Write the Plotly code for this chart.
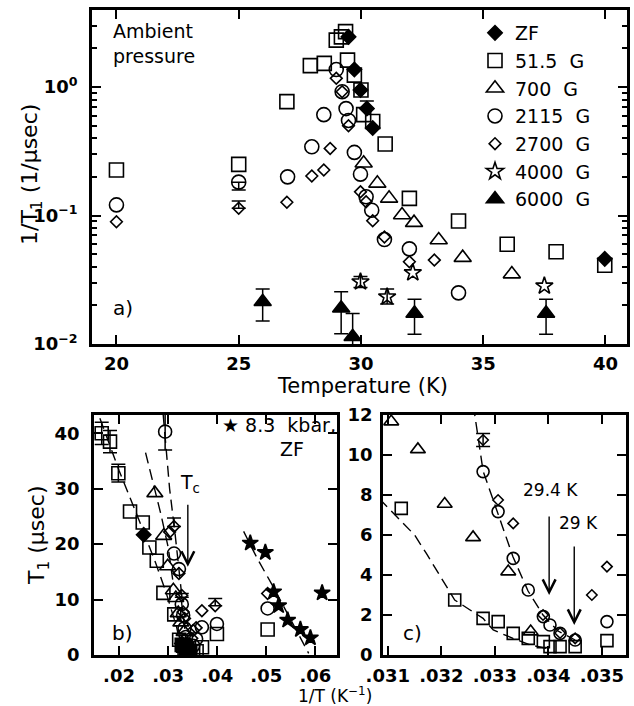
import plotly.graph_objects as go

FONT = "DejaVu Sans"
W, H = 634, 706

# ---------------- panel a : 1/T1 (1/usec) vs temperature (K) ----------------
zf_T = [29.49, 29.73, 29.98, 30.24, 30.48, 39.97]
zf_R = [2.46, 1.37, 0.95, 0.68, 0.48, 0.046]

g51_T = [20.0, 25.0, 26.97, 27.93, 28.5, 28.99, 29.2, 29.37, 29.45, 29.73, 30.0,
         30.11, 30.48, 30.99, 31.98, 33.99, 35.98, 37.98, 39.97]
g51_R = [0.226, 0.25, 0.77, 1.47, 1.53, 2.32, 2.46, 2.7, 1.62, 1.24, 0.95,
         0.61, 0.54, 0.36, 0.136, 0.0906, 0.0597, 0.0523, 0.041]

g700_T = [30.11, 30.67, 31.15, 31.68, 32.17, 33.18, 34.16, 36.17]
g700_R = [0.255, 0.178, 0.136, 0.101, 0.088, 0.0645, 0.047, 0.035]

g2115_T = [20.0, 25.0, 27.0, 27.99, 28.48, 28.99, 29.23, 29.39, 29.49, 29.73,
           29.98, 30.21, 30.44, 30.96, 31.98, 33.99]
g2115_R = [0.121, 0.182, 0.20, 0.343, 0.61, 1.37, 0.92, 0.68, 0.55, 0.31,
           0.21, 0.14, 0.11, 0.065, 0.055, 0.025]

g2700_T = [20.0, 25.0, 26.97, 27.99, 28.48, 28.74, 28.99, 29.23, 29.49, 29.98,
           30.21, 30.48, 30.96, 31.98, 33.0]
g2700_R = [0.0895, 0.114, 0.127, 0.203, 0.226, 0.333, 1.17, 0.92, 0.50, 0.153,
           0.128, 0.091, 0.068, 0.0437, 0.045]

g4000_T = [29.98, 31.07, 32.12, 37.5]
g4000_R = [0.0305, 0.0233, 0.0359, 0.0283]

g6000_T = [25.98, 29.19, 29.66, 32.19, 37.57]
g6000_R = [0.0213, 0.019, 0.0114, 0.0173, 0.0173]
g6000_up = [0.0055, 0.0065, 0.0059, 0.005, 0.005]
g6000_dn = [0.0062, 0.007, 0.011, 0.0054, 0.0054]

# error bars on a few panel-a points
ea_zf_T, ea_zf_R, ea_zf_up, ea_zf_dn = [30.24], [0.68], [0.10], [0.0]
ea_2115_T, ea_2115_R, ea_2115_up, ea_2115_dn = [25.0], [0.182], [0.0], [0.024]
ea_2700_T, ea_2700_R, ea_2700_up, ea_2700_dn = [25.0], [0.114], [0.016], [0.0]
ea_4000_T, ea_4000_R = [29.98, 31.07], [0.0305, 0.0233]
ea_4000_up, ea_4000_dn = [0.003, 0.0035], [0.003, 0.0028]

# ---------------- panels b, c : T1 (usec) vs 1/T (1/K) ----------------
sq_x = [0.01647, 0.01816, 0.01986, 0.02224, 0.02483, 0.02618, 0.02769, 0.02904,
        0.031251, 0.03225, 0.03278, 0.033062, 0.033343, 0.033624, 0.033906,
        0.03403, 0.034218, 0.0345, 0.035094, 0.0358, 0.0369, 0.03994, 0.05027]
sq_y = [40.0, 38.5, 32.8, 25.9, 23.9, 19.4, 17.0, 11.2,
        7.33, 2.75, 1.83, 1.67, 1.08, 0.83, 0.67,
        0.42, 0.42, 0.42, 0.72, 0.68, 1.4, 3.8, 4.6]
esq_x, esq_y, esq_e = [0.01647, 0.01816, 0.01986], [40.0, 38.5, 32.8], [2.0, 2.0, 1.6]

tri_x = [0.0273, 0.0291, 0.0299, 0.031064, 0.031562, 0.032063, 0.032593,
         0.03325, 0.033669]
tri_y = [29.2, 21.5, 16.0, 11.67, 10.28, 7.55, 5.88, 4.17, 1.17]

cir_x = [0.02939, 0.0312, 0.0322, 0.03278, 0.03306, 0.033343, 0.033624,
         0.033906, 0.03403, 0.034218, 0.0345, 0.035094, 0.0357, 0.03688,
         0.03994, 0.05027]
cir_y = [40.3, 18.3, 15.5, 9.17, 7.17, 4.83, 3.25, 1.92, 1.5, 1.08, 0.75,
         1.67, 2.9, 5.0, 5.6, 8.4]
ecir_x, ecir_y, ecir_up, ecir_dn = [0.02939], [40.3], [10.0], [3.3]

dia_x = [0.0303, 0.0312, 0.0322, 0.03278, 0.03306, 0.033343, 0.0339, 0.034218,
         0.0345, 0.034812, 0.035094, 0.0357, 0.03688, 0.03959, 0.05027]
dia_y = [22.2, 23.2, 14.7, 10.75, 7.75, 6.58, 2.0, 1.1, 0.83, 3.0, 4.42, 4.9,
         8.0, 8.9, 11.1]
edia_x, edia_y = [0.0312, 0.03278, 0.03959], [23.2, 10.75, 8.9]
edia_up, edia_dn = [1.5, 0.33, 1.3], [0.0, 0.33, 0.0]

zfb_x = [0.02502, 0.03281, 0.03307, 0.03336, 0.03364, 0.03391]
zfb_y = [21.7, 2.08, 1.47, 1.05, 0.73, 0.41]

kbar_x = [0.04673, 0.04980, 0.05149, 0.05251, 0.05435, 0.05694, 0.05898, 0.06137]
kbar_y = [20.2, 18.5, 11.4, 8.9, 6.3, 4.6, 3.1, 11.2]

# dashed fit curves
fitA_x = [0.0161, 0.0200, 0.0240, 0.0275, 0.0295, 0.0315, 0.03172, 0.03203,
          0.03225, 0.03278, 0.03297, 0.03334, 0.03366, 0.03397]
fitA_y = [42.7, 33.3, 24.5, 16.5, 11.5, 6.0, 5.08, 3.75, 2.75, 1.83, 1.25,
          0.83, 0.5, 0.33]
fitB_x = [0.0254, 0.0270, 0.0285, 0.0300, 0.0311]
fitB_y = [36.5, 31.0, 25.5, 19.5, 12.5]
fitC_x = [0.0290, 0.0296, 0.0303, 0.0314, 0.0322, 0.032625, 0.03278, 0.03306,
          0.03334, 0.03362, 0.0339, 0.03418, 0.0345]
fitC_y = [43.3, 37.0, 30.0, 22.0, 15.5, 12.0, 9.2, 7.0, 4.9, 3.2, 2.0, 1.2, 0.75]
fitD_x = [0.04538, 0.04822, 0.05116, 0.05422, 0.05863]
fitD_y = [22.3, 17.3, 12.7, 7.5, 0.3]

fig = go.Figure()


def mk(symbol, size, lw=1.6):
    return dict(symbol=symbol, size=size, color="black",
                line=dict(color="black", width=lw))


def pts(x, y, symbol, size, xa, ya, name=None, legend=False):
    fig.add_trace(go.Scatter(x=x, y=y, mode="markers", marker=mk(symbol, size),
                             name=name, showlegend=legend, xaxis=xa, yaxis=ya,
                             cliponaxis=True))


def errs(x, y, up, dn, xa, ya):
    fig.add_trace(go.Scatter(
        x=x, y=y, mode="markers", marker=dict(size=4, opacity=0),
        showlegend=False, hoverinfo="skip", xaxis=xa, yaxis=ya,
        error_y=dict(type="data", symmetric=False, array=up, arrayminus=dn,
                     color="black", thickness=1.5, width=7)))


def fit(x, y, xa, ya):
    fig.add_trace(go.Scatter(x=x, y=y, mode="lines", showlegend=False,
                             line=dict(color="black", width=1.4, dash="11px,6px"),
                             xaxis=xa, yaxis=ya, hoverinfo="skip"))


NB = "\u00a0\u00a0"
# panel a (legend order)
pts(zf_T, zf_R, "diamond", 11, "x", "y", "ZF", True)
pts(g51_T, g51_R, "square-open", 14, "x", "y", "51.5" + NB + "G", True)
pts(g700_T, g700_R, "triangle-up-open", 15, "x", "y", "700" + NB + "G", True)
pts(g2115_T, g2115_R, "circle-open", 14, "x", "y", "2115" + NB + "G", True)
pts(g2700_T, g2700_R, "diamond-open", 9, "x", "y", "2700" + NB + "G", True)
pts(g4000_T, g4000_R, "star-open", 13, "x", "y", "4000" + NB + "G", True)
pts(g6000_T, g6000_R, "triangle-up", 15, "x", "y", "6000" + NB + "G", True)
errs(g6000_T, g6000_R, g6000_up, g6000_dn, "x", "y")
errs(ea_zf_T, ea_zf_R, ea_zf_up, ea_zf_dn, "x", "y")
errs(ea_2115_T, ea_2115_R, ea_2115_up, ea_2115_dn, "x", "y")
errs(ea_2700_T, ea_2700_R, ea_2700_up, ea_2700_dn, "x", "y")
errs(ea_4000_T, ea_4000_R, ea_4000_up, ea_4000_dn, "x", "y")

# panel b
fit(fitA_x, fitA_y, "x2", "y2")
fit(fitB_x, fitB_y, "x2", "y2")
fit(fitC_x, fitC_y, "x2", "y2")
fit(fitD_x, fitD_y, "x2", "y2")
pts(sq_x, sq_y, "square-open", 13, "x2", "y2")
pts(tri_x, tri_y, "triangle-up-open", 14, "x2", "y2")
pts(cir_x, cir_y, "circle-open", 13, "x2", "y2")
pts(dia_x, dia_y, "diamond-open", 9, "x2", "y2")
pts(zfb_x, zfb_y, "diamond", 11, "x2", "y2")
pts(kbar_x, kbar_y, "star", 12, "x2", "y2")
errs(esq_x, esq_y, esq_e, esq_e, "x2", "y2")
errs(ecir_x, ecir_y, ecir_up, ecir_dn, "x2", "y2")
errs(edia_x, edia_y, edia_up, edia_dn, "x2", "y2")

# panel c (zoom of b)
fit(fitA_x, fitA_y, "x3", "y3")
fit(fitC_x, fitC_y, "x3", "y3")
pts(sq_x, sq_y, "square-open", 12, "x3", "y3")
pts(tri_x, tri_y, "triangle-up-open", 13, "x3", "y3")
pts(cir_x, cir_y, "circle-open", 12, "x3", "y3")
pts(dia_x, dia_y, "diamond-open", 8, "x3", "y3")
errs(edia_x, edia_y, edia_up, edia_dn, "x3", "y3")

TICKF = dict(family=FONT, size=18, color="black", weight="bold")


def axstyle(**kw):
    d = dict(showline=True, linewidth=2.6, linecolor="black", mirror="allticks",
             ticks="inside", ticklen=9, tickwidth=2, tickcolor="black",
             showgrid=False, zeroline=False, tickfont=TICKF)
    d.update(kw)
    return d


def px_x(x):
    return x / W


def px_y(y):
    return 1 - y / H


fig.update_layout(
    width=W, height=H, margin=dict(l=0, r=0, t=0, b=0, autoexpand=False),
    paper_bgcolor="white", plot_bgcolor="white",
    font=dict(family=FONT, color="black"),
    xaxis=axstyle(domain=[px_x(92), px_x(627)], anchor="y", range=[19.0, 40.88],
                  tickvals=[20, 25, 30, 35, 40], ticklabelstandoff=2),
    yaxis=axstyle(domain=[px_y(344), px_y(10)], anchor="x", type="log",
                  range=[-2, 0.6], tickvals=[0.01, 0.1, 1],
                  ticktext=["10<sup>−2</sup>", "10<sup>−1</sup>", "10<sup>0</sup>"],
                  ticklabelstandoff=8,
                  minor=dict(ticks="inside", ticklen=5, tickwidth=1.6,
                             tickcolor="black",
                             tickvals=[0.02, 0.03, 0.04, 0.05, 0.06, 0.07, 0.08, 0.09,
                                       0.2, 0.3, 0.4, 0.5, 0.6, 0.7, 0.8, 0.9,
                                       2, 3, 4])),
    xaxis2=axstyle(domain=[px_x(94), px_x(337)], anchor="y2", range=[0.0149, 0.0644],
                   tickvals=[0.02, 0.03, 0.04, 0.05, 0.06],
                   ticktext=[".02", ".03", ".04", ".05", ".06"], ticklabelstandoff=3),
    yaxis2=axstyle(domain=[px_y(655), px_y(415)], anchor="x2", range=[0, 43.3],
                   tickvals=[0, 10, 20, 30, 40], ticklabelstandoff=8),
    xaxis3=axstyle(domain=[px_x(383), px_x(626)], anchor="y3", range=[0.03091, 0.03545],
                   tickvals=[0.031, 0.032, 0.033, 0.034, 0.035],
                   ticktext=[".031", ".032", ".033", ".034", ".035"], ticklabelstandoff=3),
    yaxis3=axstyle(domain=[px_y(655), px_y(415)], anchor="x3", range=[0, 12],
                   tickvals=[0, 2, 4, 6, 8, 10, 12], ticklabelstandoff=4),
    legend=dict(x=px_x(475), y=px_y(14), xanchor="left", yanchor="top",
                bgcolor="rgba(0,0,0,0)", font=dict(family=FONT, size=19),
                itemsizing="trace", tracegroupgap=0),
    showlegend=True,
)

ann = []


def note(text, x, y, size=19, xanchor="center", yanchor="middle", angle=0, align="center"):
    ann.append(dict(text=text, x=px_x(x), y=px_y(y), xref="paper", yref="paper",
                    showarrow=False, xanchor=xanchor, yanchor=yanchor, align=align,
                    textangle=angle, font=dict(family=FONT, size=size, color="black")))


note("Ambient<br>pressure", 111, 18, 19, xanchor="left", yanchor="top", align="left")
note("a)", 123, 308, 20)
note("b)", 122, 633, 20)
note("c)", 412, 633, 20)
note("Temperature (K)", 362, 386, 21)
note("1/T<sub>1</sub> (1/μsec)", 31, 175, 22, angle=-90)
note("T<sub>1</sub> (μsec)", 38, 535, 22, angle=-90)
note("1/T (K<sup>−1</sup>)", 335, 695, 17)
note("★ 8.3" + NB + "kbar,", 338, 425, 19, xanchor="right")
note("ZF", 292, 449, 19)


def arrow(x, y0, y1, xa, ya):
    ann.append(dict(text="", x=x, y=y1, ax=x, ay=y0, xref=xa, yref=ya,
                    axref=xa, ayref=ya, showarrow=True, arrowhead=5,
                    arrowsize=1.8, arrowwidth=1.4, arrowcolor="black"))


def dtext(text, x, y, xa, ya, size=17):
    ann.append(dict(text=text, x=x, y=y, xref=xa, yref=ya, showarrow=False,
                    font=dict(family=FONT, size=size, color="black")))


arrow(0.034014, 27.4, 15.9, "x2", "y2")
dtext("T<sub>c</sub>", 0.03449, 31.0, "x2", "y2", 19)
arrow(0.034014, 7.0, 3.0, "x3", "y3")
arrow(0.034483, 5.5, 1.5, "x3", "y3")
dtext("29.4 K", 0.03403, 8.25, "x3", "y3", 17)
dtext("29 K", 0.034565, 6.6, "x3", "y3", 17)

fig.update_layout(annotations=ann)
fig.write_html("out.html", config={"displayModeBar": False},
               post_script="document.body.style.margin='0';"
                           "document.body.style.padding='0';")
